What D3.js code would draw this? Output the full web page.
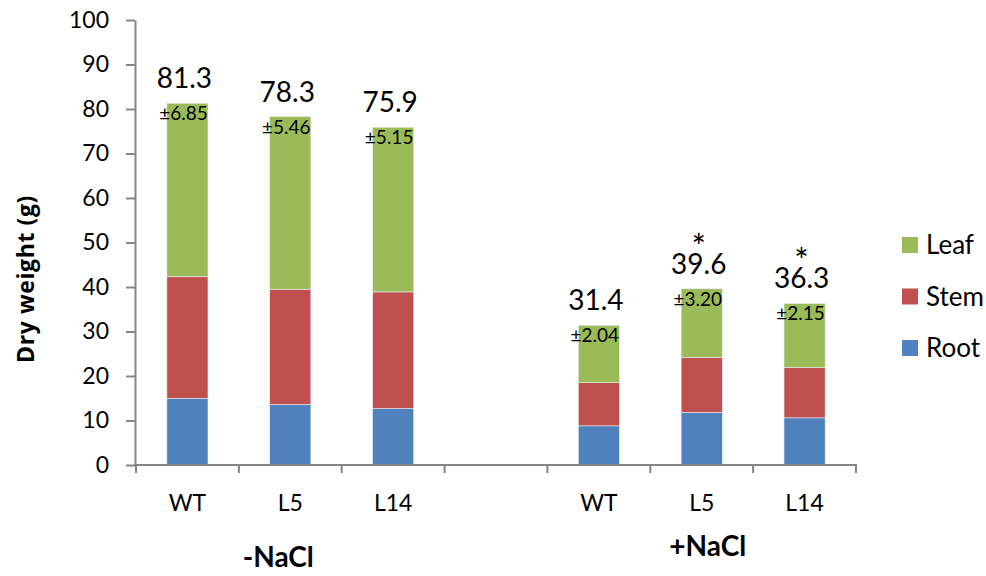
<!DOCTYPE html>
<html>
<head>
<meta charset="utf-8">
<script src="https://cdn.jsdelivr.net/npm/d3@7"></script>
<style>
  body { margin: 0; background: #fff; }
  text { font-family: Lato, "Open Sans", sans-serif; fill: #000; }
</style>
</head>
<body>
<div id="chart"></div>
<script>
// datos
const lines = ["WT", "L5", "L14"];
const treatments = ["-NaCl", "+NaCl"];
const root = [15.0, 13.6, 12.7, 8.8, 11.8, 10.6];
const stem = [27.3, 25.9, 26.2, 9.7, 12.4, 11.3];
const leaf = [39.0, 38.8, 37.0, 12.9, 15.4, 14.4];
const totals = ["81.3", "78.3", "75.9", "31.4", "39.6", "36.3"];
const errors = ["6.85", "5.46", "5.15", "2.04", "3.20", "2.15"];
const stars = ["", "", "", "", "*", "*"];
const yTicks = [0, 10, 20, 30, 40, 50, 60, 70, 80, 90, 100];
const parts = ["Root", "Stem", "Leaf"];
const colors = { Root: "#4F81BD", Stem: "#C0504D", Leaf: "#9BBB59" };

const WIDTH = 986;
const HEIGHT = 576;
const AXIS_COLOR = "#868686";

const svg = d3.select("#chart").append("svg")
    .attr("width", WIDTH).attr("height", HEIGHT);

// slots: 3 lineas, hueco, 3 lineas
const slots = [];
treatments.forEach((t, ti) => {
    lines.forEach(l => slots.push({ key: l + t, label: l, treat: t }));
    if (ti == 0) slots.push({ key: "gap", label: "", treat: null });
});

const rows = slots.filter(s => s.key != "gap").map((s, i) => ({
    key: s.key, Root: root[i], Stem: stem[i], Leaf: leaf[i],
    total: totals[i], err: errors[i], star: stars[i]
}));

const x = d3.scaleBand()
    .domain(slots.map(s => s.key))
    .range([136, 856])
    .paddingInner(0).paddingOuter(0);

const y = d3.scaleLinear().domain([0, 100]).range([465, 20]);

const barW = x.bandwidth() * 0.4;

// eje Y
const yAxis = svg.append("g")
    .attr("transform", `translate(${x.range()[0] - 1}, 0)`)
    .call(d3.axisLeft(y).tickValues(yTicks).tickSize(9).tickSizeOuter(0).tickPadding(17));
yAxis.selectAll("path, line").attr("stroke", AXIS_COLOR).attr("stroke-width", 2);
yAxis.selectAll("text").style("font-size", "23px").attr("font-family", "Lato");

// barras apiladas
const stack = d3.stack().keys(parts);
const series = stack(rows);

svg.append("g").selectAll("g")
    .data(series)
    .join("g")
    .attr("fill", d => colors[d.key])
    .selectAll("rect")
    .data(d => d)
    .join("rect")
    .attr("x", d => x(d.data.key) + (x.bandwidth() - barW) / 2)
    .attr("y", d => y(d[1]))
    .attr("width", barW)
    .attr("height", d => y(d[0]) - y(d[1]))
    .attr("stroke", "#e8eef6")
    .attr("stroke-width", 0.6);

// eje X con ticks en los bordes de cada categoria
const xAxis = svg.append("g");
xAxis.append("line")
    .attr("x1", x.range()[0] - 2).attr("x2", x.range()[1] + 1)
    .attr("y1", y(0)).attr("y2", y(0))
    .attr("stroke", AXIS_COLOR).attr("stroke-width", 2);
const bounds = slots.map(s => x(s.key)).concat([x.range()[1]]);
xAxis.selectAll(".tk")
    .data(bounds)
    .join("line")
    .attr("x1", d => d).attr("x2", d => d)
    .attr("y1", y(0)).attr("y2", y(0) + 8)
    .attr("stroke", AXIS_COLOR).attr("stroke-width", 2);
xAxis.selectAll(".cat")
    .data(slots.filter(s => s.label != ""))
    .join("text")
    .attr("x", d => x(d.key) + x.bandwidth() / 2)
    .attr("y", 511)
    .attr("text-anchor", "middle")
    .style("font-size", "23px")
    .text(d => d.label);

// etiquetas de grupo
const groupX = treatments.map(t => {
    const ks = slots.filter(s => s.treat == t).map(s => x(s.key) + x.bandwidth() / 2);
    return d3.mean(ks);
});
svg.selectAll(".grp")
    .data(treatments)
    .join("text")
    .attr("x", (d, i) => i == 0 ? groupX[i] - 12 : groupX[i] + 6)
    .attr("y", (d, i) => i == 0 ? 567 : 556)
    .attr("text-anchor", "middle")
    .style("font-size", "28px")
    .style("font-weight", "bold")
    .text(d => d);

// totales (con asterisco encima cuando corresponde) y error
const lbl = svg.append("g");
const tot = lbl.selectAll(".tot")
    .data(rows)
    .join("text")
    .attr("text-anchor", "middle")
    .style("font-size", "28px");
tot.filter(d => d.star != "")
    .append("tspan")
    .attr("x", d => x(d.key) + x.bandwidth() / 2 - 3)
    .attr("y", d => y(d.Root + d.Stem + d.Leaf) - 30)
    .style("font-size", "34px")
    .text(d => d.star);
tot.append("tspan")
    .attr("x", d => x(d.key) + x.bandwidth() / 2 - 3)
    .attr("y", d => y(d.Root + d.Stem + d.Leaf) - 15)
    .text(d => d.total);
lbl.selectAll(".err")
    .data(rows)
    .join("text")
    .attr("x", d => x(d.key) + x.bandwidth() / 2 - 4)
    .attr("y", d => y(d.Root + d.Stem + d.Leaf) + 17)
    .attr("text-anchor", "middle")
    .style("font-size", "19px")
    .text(d => "\u00b1" + d.err);

// titulo eje Y
svg.append("text")
    .attr("transform", `translate(34, 279) rotate(-90)`)
    .attr("text-anchor", "middle")
    .style("font-family", "'Open Sans', sans-serif")
    .style("font-size", "23px")
    .style("font-weight", "bold")
    .style("letter-spacing", "0.6px")
    .text("Dry weight (g)");

// leyenda
const legend = svg.append("g").selectAll("g")
    .data(parts.slice().reverse())
    .join("g")
    .attr("transform", (d, i) => `translate(902, ${237 + i * 51.5})`);
legend.append("rect")
    .attr("width", 16).attr("height", 16)
    .attr("fill", d => colors[d]);
legend.append("text")
    .attr("x", 24).attr("y", 17)
    .style("font-size", "26px")
    .text(d => d);
</script>
</body>
</html>
